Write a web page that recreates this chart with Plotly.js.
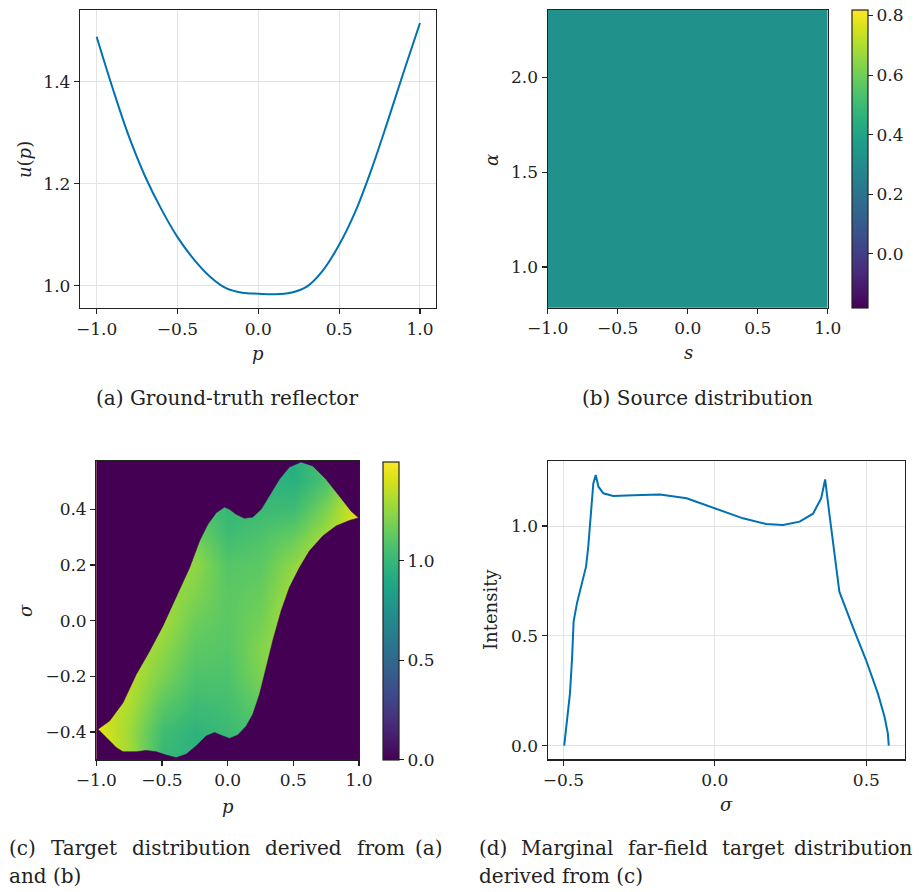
<!DOCTYPE html>
<html>
<head>
<meta charset="utf-8">
<script src="https://cdn.plot.ly/plotly-3.0.1.min.js"></script>
<style>html,body{margin:0;padding:0;background:#fff;}#chart{width:919px;height:892px;}</style>
</head>
<body>
<div id="chart"></div>
<script>
// ---------- (a) Ground-truth reflector ----------
const reflP = [-1.0,-0.9,-0.8,-0.7,-0.6,-0.5,-0.4,-0.3,-0.2,-0.1,0.0,0.1,0.2,0.3,0.4,0.5,0.6,0.7,0.8,0.9,1.0];
const reflU = [1.488,1.386,1.292,1.214,1.150,1.095,1.052,1.018,0.995,0.986,0.984,0.983,0.986,0.998,1.030,1.080,1.145,1.228,1.322,1.420,1.515];

// ---------- (b) Source distribution ----------
const sourceS = [-1.0, 1.0];
const sourceAlpha = [0.7854, 2.3562];
const sourceDensity = [[0.3183]];

// ---------- (c) Target distribution ----------
const tgtP = [-1.0,-0.75,-0.5,-0.25,0.0,0.25,0.5,0.75,1.0];
const tgtSigma = [-0.5,-0.4,-0.3,-0.2,-0.1,0.0,0.1,0.2,0.3,0.4,0.5,0.6];
const tgtZ = [
  [1.45,1.30,1.00,0.95,1.00,1.10,1.30,1.40,1.45],
  [1.45,1.28,1.04,0.97,1.02,1.08,1.30,1.40,1.45],
  [1.40,1.32,1.12,1.03,1.05,1.14,1.30,1.40,1.45],
  [1.40,1.35,1.20,1.08,1.08,1.20,1.30,1.40,1.45],
  [1.40,1.35,1.25,1.12,1.10,1.22,1.30,1.40,1.45],
  [1.40,1.35,1.30,1.16,1.12,1.18,1.32,1.40,1.45],
  [1.40,1.35,1.30,1.21,1.12,1.15,1.30,1.40,1.45],
  [1.40,1.35,1.30,1.25,1.10,1.12,1.25,1.38,1.45],
  [1.40,1.35,1.30,1.18,1.04,1.08,1.15,1.30,1.45],
  [1.40,1.35,1.30,1.10,1.00,1.02,1.03,1.20,1.45],
  [1.40,1.35,1.30,1.10,1.00,0.98,0.95,1.08,1.40],
  [1.40,1.35,1.30,1.10,1.00,0.98,0.93,1.08,1.40]
];
// support boundaries of the target region
const upperP = [-1.0,-0.987,-0.899,-0.797,-0.696,-0.594,-0.493,-0.392,-0.290,-0.214,-0.151,-0.087,-0.024,0.014,0.065,0.128,0.191,0.255,0.318,0.394,0.470,0.559,0.648,0.749,0.850,0.939,0.990,1.0];
const upperS = [-0.390,-0.390,-0.360,-0.295,-0.193,-0.109,-0.019,0.083,0.190,0.286,0.346,0.388,0.408,0.400,0.382,0.368,0.372,0.400,0.448,0.508,0.552,0.570,0.556,0.508,0.448,0.394,0.372,0.370];
const lowerP = [-1.0,-0.987,-0.924,-0.848,-0.797,-0.696,-0.620,-0.544,-0.468,-0.392,-0.316,-0.240,-0.163,-0.100,-0.037,0.014,0.077,0.141,0.191,0.242,0.293,0.343,0.407,0.470,0.546,0.622,0.724,0.825,0.927,1.0];
const lowerS = [-0.390,-0.390,-0.420,-0.456,-0.471,-0.471,-0.466,-0.471,-0.483,-0.492,-0.480,-0.450,-0.414,-0.402,-0.414,-0.423,-0.411,-0.379,-0.337,-0.265,-0.169,-0.073,0.035,0.119,0.190,0.250,0.304,0.340,0.360,0.370];

// ---------- (d) Marginal far-field target distribution ----------
const margSigma = [-0.497,-0.491,-0.478,-0.471,-0.466,-0.455,-0.440,-0.425,-0.418,-0.412,-0.401,-0.393,-0.384,-0.368,-0.335,-0.269,-0.181,-0.093,0.0,0.093,0.170,0.225,0.280,0.324,0.351,0.364,0.378,0.395,0.411,0.455,0.499,0.538,0.560,0.571,0.574];
const margI =     [0.0,0.086,0.238,0.40,0.565,0.648,0.735,0.815,0.90,1.012,1.194,1.232,1.179,1.149,1.137,1.140,1.144,1.126,1.080,1.035,1.009,1.005,1.020,1.056,1.126,1.212,1.056,0.860,0.701,0.542,0.390,0.238,0.132,0.056,0.0];

// captions
const captionA = '(a) Ground-truth reflector';
const captionB = '(b) Source distribution';
const captionC1 = ['(c)', 'Target', 'distribution', 'derived', 'from', '(a)'];
const captionC2 = 'and (b)';
const captionD1 = ['(d)', 'Marginal', 'far-field', 'target', 'distribution'];
const captionD2 = 'derived from (c)';

const W = 919, H = 892;
const px = v => v / W;
const py = v => 1 - v / H;
const FONT = '"DejaVu Serif", "Liberation Serif", serif';
const TICK = 17;
const CAP = 20;
const PURPLE = '#440154';
const BLUE = '#0072B2';

const axisBase = {
  showline: true, mirror: true, linecolor: '#222', linewidth: 1.2,
  ticks: 'outside', ticklen: 5, tickwidth: 1.1, tickcolor: '#222',
  zeroline: false, tickfont: {family: FONT, size: TICK, color: '#222'},
  tickformat: '.1f', fixedrange: true
};
function ax(o) { return Object.assign({}, axisBase, o); }

function cbar(x, yTop, lenPx, vals) {
  return {x: px(x), xanchor: 'left', y: py(yTop), yanchor: 'top',
    len: lenPx / H, lenmode: 'fraction', thickness: 15.6, thicknessmode: 'pixels',
    xpad: 0, ypad: 0, outlinewidth: 1.2, outlinecolor: '#222',
    ticks: 'outside', ticklen: 5, tickcolor: '#222',
    tickvals: vals, tickformat: '.1f',
    tickfont: {family: FONT, size: TICK, color: '#222'}};
}

const traces = [
  {type: 'scatter', mode: 'lines', x: reflP, y: reflU, xaxis: 'x', yaxis: 'y',
   line: {color: BLUE, width: 2, shape: 'spline', smoothing: 1}, showlegend: false},
  {type: 'heatmap', x: sourceS, y: sourceAlpha, z: sourceDensity, xaxis: 'x2', yaxis: 'y2',
   colorscale: 'Viridis', zmin: 0.3183 - 0.5, zmax: 0.3183 + 0.5,
   colorbar: cbar(851.7, 10, 298, [0, 0.2, 0.4, 0.6, 0.8])},
  {type: 'heatmap', x: tgtP, y: tgtSigma, z: tgtZ, xaxis: 'x3', yaxis: 'y3',
   zsmooth: 'best', colorscale: 'Viridis', zmin: 0, zmax: 1.498,
   colorbar: cbar(382.7, 461.7, 297.6, [0, 0.5, 1.0])},
  {type: 'scatter', mode: 'lines', xaxis: 'x3', yaxis: 'y3', showlegend: false, hoverinfo: 'skip',
   x: [-1.3].concat(upperP, [1.3, 1.3, -1.3]),
   y: [upperS[0]].concat(upperS, [upperS[upperS.length - 1], 0.8, 0.8]),
   fill: 'toself', fillcolor: PURPLE, line: {color: PURPLE, width: 0.6}},
  {type: 'scatter', mode: 'lines', xaxis: 'x3', yaxis: 'y3', showlegend: false, hoverinfo: 'skip',
   x: [-1.3].concat(lowerP, [1.3, 1.3, -1.3]),
   y: [lowerS[0]].concat(lowerS, [lowerS[lowerS.length - 1], -0.8, -0.8]),
   fill: 'toself', fillcolor: PURPLE, line: {color: PURPLE, width: 0.6}},
  {type: 'scatter', mode: 'lines', x: margSigma, y: margI, xaxis: 'x4', yaxis: 'y4',
   line: {color: BLUE, width: 2}, showlegend: false}
];

const grid = {showgrid: true, gridcolor: '#e3e3e3', gridwidth: 1};
const nogrid = {showgrid: false};

function ann(text, x, y, extra, size) {
  return Object.assign({text: text, x: px(x), y: py(y), xref: 'paper', yref: 'paper',
    xanchor: 'center', yanchor: 'middle', showarrow: false,
    font: {family: FONT, size: size || CAP, color: '#222'}}, extra || {});
}

const annotations = [
  ann('<i>p</i>', 258, 354, {}, 18),
  ann('<i>u</i>(<i>p</i>)', 25, 160, {textangle: -90}, 18),
  ann('<i>s</i>', 688, 352, {}, 18),
  ann('<i>α</i>', 492, 160, {textangle: -90}, 18),
  ann('<i>p</i>', 228, 806, {}, 18),
  ann('<i>σ</i>', 25, 611, {textangle: -90}, 18),
  ann('<i>σ</i>', 726, 804, {}, 18),
  ann('Intensity', 490, 610, {textangle: -90}, 18),
  ann(captionA, 227, 398),
  ann(captionB, 697, 398)
];

// justify a line of words between two pixel edges
const ctx = document.createElement('canvas').getContext('2d');
ctx.font = CAP + 'px "DejaVu Serif"';
function justify(words, x0, x1, yPix) {
  const widths = words.map(w => ctx.measureText(w).width);
  const total = widths.reduce((a, b) => a + b, 0);
  const gap = (x1 - x0 - total) / (words.length - 1);
  let x = x0;
  words.forEach((w, i) => {
    if (i === words.length - 1) {
      annotations.push(ann(w, x1, yPix, {xanchor: 'right'}));
    } else {
      annotations.push(ann(w, x, yPix, {xanchor: 'left'}));
    }
    x += widths[i] + gap;
  });
}
justify(captionC1, 7.3, 445, 848);
annotations.push(ann(captionC2, 7.3, 876, {xanchor: 'left'}));
justify(captionD1, 476.7, 915, 848);
annotations.push(ann(captionD2, 476.7, 876, {xanchor: 'left'}));

const layout = {
  width: W, height: H, margin: {l: 0, r: 0, t: 0, b: 0, pad: 0},
  paper_bgcolor: '#ffffff', plot_bgcolor: '#ffffff', showlegend: false,
  font: {family: FONT, size: TICK, color: '#222'},
  xaxis: ax(Object.assign({domain: [px(80), px(436)], range: [-1.103, 1.099], anchor: 'y',
    tickvals: [-1, -0.5, 0, 0.5, 1]}, grid)),
  yaxis: ax(Object.assign({domain: [py(308), py(10)], range: [0.956, 1.5406], anchor: 'x',
    tickvals: [1.0, 1.2, 1.4]}, grid)),
  xaxis2: ax(Object.assign({domain: [px(547.7), px(827.7)], range: [-1, 1], anchor: 'y2',
    tickvals: [-1, -0.5, 0, 0.5, 1]}, nogrid)),
  yaxis2: ax(Object.assign({domain: [py(307.7), py(10)], range: [0.7854, 2.3562], anchor: 'x2',
    tickvals: [1.0, 1.5, 2.0]}, nogrid)),
  xaxis3: ax(Object.assign({domain: [px(96.3), px(359)], range: [-1, 1], anchor: 'y3',
    tickvals: [-1, -0.5, 0, 0.5, 1]}, nogrid)),
  yaxis3: ax(Object.assign({domain: [py(759.3), py(461)], range: [-0.498, 0.5736], anchor: 'x3',
    tickvals: [-0.4, -0.2, 0, 0.2, 0.4]}, nogrid)),
  xaxis4: ax(Object.assign({domain: [px(547.7), px(905)], range: [-0.5515, 0.6276], anchor: 'y4',
    tickvals: [-0.5, 0, 0.5]}, grid)),
  yaxis4: ax(Object.assign({domain: [py(759.3), py(461)], range: [-0.062, 1.296], anchor: 'x4',
    tickvals: [0, 0.5, 1.0]}, grid)),
  annotations: annotations
};

Plotly.newPlot('chart', traces, layout, {staticPlot: true, displayModeBar: false});
</script>
</body>
</html>
